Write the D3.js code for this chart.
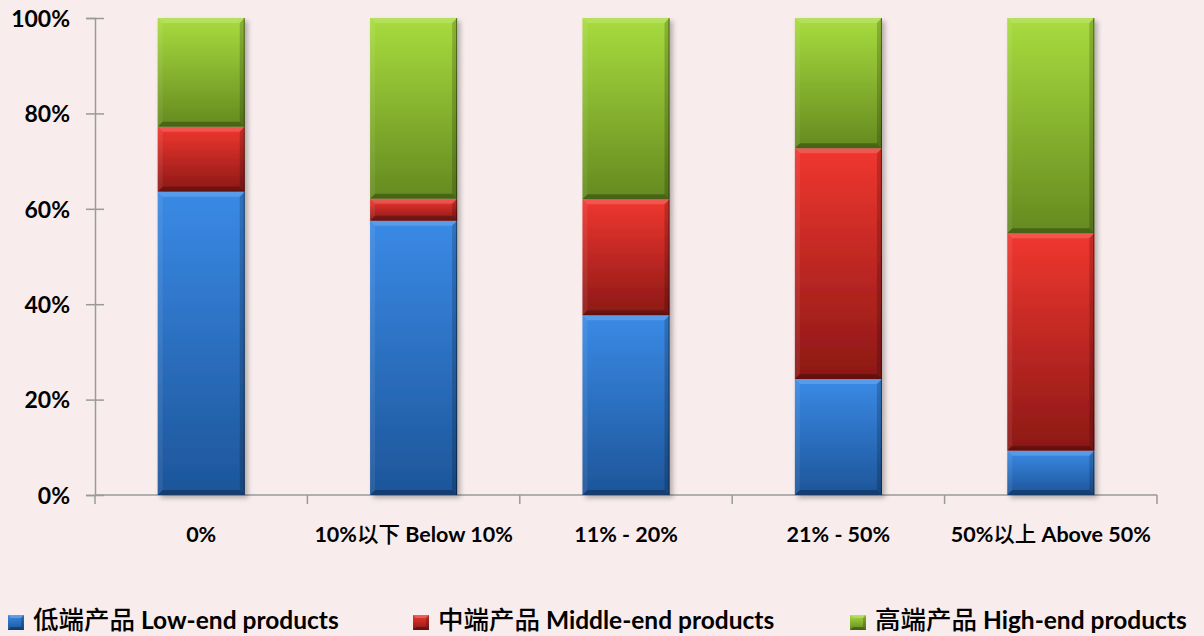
<!DOCTYPE html>
<html>
<head>
<meta charset="utf-8">
<script src="https://cdn.jsdelivr.net/npm/d3@7"></script>
<style>
  html, body { margin: 0; padding: 0; background: #f8ecec; }
  svg { display: block; }
  text { font-family: Lato, "Noto Sans CJK SC", sans-serif; font-weight: 700; fill: #000; }
  .cjk { font-family: "Noto Sans CJK SC", sans-serif; font-weight: 500; }
</style>
</head>
<body>
<svg id="chart" width="1204" height="636"></svg>
<script>
// Share of product tiers by export ratio group (percent of each group)
const categories = ["0%", "10%以下 Below 10%", "11% - 20%", "21% - 50%", "50%以上 Above 50%"];
const lowEnd    = [63.6, 57.5, 37.7, 24.3, 9.3];
const middleEnd = [13.6, 4.6, 24.3, 48.4, 45.6];
const highEnd   = [22.8, 37.9, 38.0, 27.3, 45.1];
const seriesNames = ["低端产品 Low-end products", "中端产品 Middle-end products", "高端产品 High-end products"];
const yTicks = [0, 20, 40, 60, 80, 100];

const palette = [
  { top: "#3a8ae6", bottom: "#1d5599" },
  { top: "#f0372f", bottom: "#8c1816" },
  { top: "#a8dc3e", bottom: "#648a20" }
];

const svg = d3.select("#chart");
const margin = { left: 95, right: 47, top: 18, bottom: 141 };
const W = 1204, H = 636;
const innerW = W - margin.left - margin.right;
const innerH = H - margin.top - margin.bottom;

const x = d3.scaleBand().domain(categories).range([margin.left, margin.left + innerW]).paddingInner(0.59).paddingOuter(0.295);
const y = d3.scaleLinear().domain([0, 100]).range([margin.top + innerH, margin.top]);

const defs = svg.append("defs");
palette.forEach((p, i) => {
  const g = defs.append("linearGradient").attr("id", "grad" + i)
    .attr("x1", 0).attr("y1", 0).attr("x2", 0).attr("y2", 1);
  g.append("stop").attr("offset", "0%").attr("stop-color", p.top);
  g.append("stop").attr("offset", "100%").attr("stop-color", p.bottom);
});
const shadow = defs.append("filter").attr("id", "shadow")
  .attr("x", "-20%").attr("y", "-5%").attr("width", "140%").attr("height", "115%");
shadow.append("feDropShadow").attr("dx", 3).attr("dy", 3).attr("stdDeviation", 2.5)
  .attr("flood-color", "#000").attr("flood-opacity", 0.28);

// Axes
const axisColor = "#9a9a9a";
const yAxis = svg.append("g").attr("transform", `translate(${margin.left},0)`)
  .call(d3.axisLeft(y).tickValues(yTicks).tickSize(9).tickFormat(d => d + "%"));
yAxis.select(".domain").attr("stroke", axisColor).attr("stroke-width", 1.5);
yAxis.selectAll(".tick line").attr("stroke", axisColor).attr("stroke-width", 1.5).attr("x2", 9).attr("x1", -9);
yAxis.selectAll(".tick text").attr("x", -25).attr("dy", "0.36em")
  .style("font-size", "23px").style("font-family", "Lato, sans-serif").style("font-weight", 700).attr("fill", "#000");

const xAxisG = svg.append("g").attr("transform", `translate(0,${y(0)})`);
xAxisG.append("line").attr("x1", margin.left).attr("x2", margin.left + innerW)
  .attr("stroke", axisColor).attr("stroke-width", 1.5);
const bounds = d3.range(categories.length + 1).map(i => margin.left + i * x.step());
xAxisG.selectAll("line.tk").data(bounds).join("line").attr("class", "tk")
  .attr("x1", d => d).attr("x2", d => d).attr("y1", 0).attr("y2", 9)
  .attr("stroke", axisColor).attr("stroke-width", 1.5);

// Mixed Chinese / Latin labels: CJK runs get the CJK face and their own size
function richText(sel, str, latinSize, cjkSize) {
  const parts = str.match(/[\u4e00-\u9fff]+|[^\u4e00-\u9fff]+/g);
  parts.forEach(p => {
    const t = sel.append("tspan").text(p);
    if (/[\u4e00-\u9fff]/.test(p)) t.attr("class", "cjk").style("font-size", cjkSize + "px");
    else t.style("font-size", latinSize + "px");
  });
}
categories.forEach(c => {
  const t = svg.append("text").attr("x", x(c) + x.bandwidth() / 2).attr("y", 542)
    .attr("text-anchor", "middle");
  richText(t, c, 21.5, 21.5);
});

// Stacked bars
const rows = categories.map((c, i) => ({ cat: c, v: [lowEnd[i], middleEnd[i], highEnd[i]] }));
const stack = d3.stack().keys([0, 1, 2]).value((d, k) => d.v[k]);
const layers = stack(rows);

const barGroup = svg.append("g");
const bevel = 5;
rows.forEach((row, ri) => {
  const gBar = barGroup.append("g").attr("filter", "url(#shadow)");
  layers.forEach((layer, li) => {
    const d = layer[ri];
    const x0 = x(row.cat), x1 = x0 + x.bandwidth();
    const yT = y(d[1]), yB = y(d[0]);
    const seg = gBar.append("g");
    seg.append("rect").attr("x", x0).attr("y", yT).attr("width", x1 - x0).attr("height", yB - yT)
      .attr("fill", `url(#grad${li})`);
    const b = Math.min(bevel, (yB - yT) / 2);
    const faces = [
      { pts: [[x0, yT], [x1, yT], [x1 - b, yT + b], [x0 + b, yT + b]], fill: "#fff", op: 0.16 },
      { pts: [[x0, yT], [x0 + b, yT + b], [x0 + b, yB - b], [x0, yB]], fill: "#fff", op: 0.07 },
      { pts: [[x1, yT], [x1, yB], [x1 - b, yB - b], [x1 - b, yT + b]], fill: "#000", op: 0.18 },
      { pts: [[x0, yB], [x1, yB], [x1 - b, yB - b], [x0 + b, yB - b]], fill: "#000", op: 0.28 }
    ];
    faces.forEach(f => seg.append("polygon").attr("points", f.pts.map(p => p.join(",")).join(" "))
      .attr("fill", f.fill).attr("fill-opacity", f.op));
    seg.append("line").attr("x1", x1 - 0.5).attr("x2", x1 - 0.5).attr("y1", yT).attr("y2", yB)
      .attr("stroke", "#000").attr("stroke-opacity", 0.45).attr("stroke-width", 1);
  });
});

// Legend
const legendX = [8, 413, 850];
seriesNames.forEach((name, i) => {
  const lg = svg.append("g").attr("transform", `translate(${legendX[i]},615)`);
  lg.append("rect").attr("width", 16).attr("height", 15).attr("fill", `url(#grad${i})`);
  lg.append("polygon").attr("points", "0,0 16,0 13,3 3,3").attr("fill", "#fff").attr("fill-opacity", 0.2);
  lg.append("polygon").attr("points", "16,0 16,15 13,12 13,3").attr("fill", "#000").attr("fill-opacity", 0.2);
  lg.append("polygon").attr("points", "0,15 16,15 13,12 3,12").attr("fill", "#000").attr("fill-opacity", 0.3);
  const t = lg.append("text").attr("x", 25).attr("y", 14);
  richText(t, name, 24.5, 25.5);
});
</script>
</body>
</html>
